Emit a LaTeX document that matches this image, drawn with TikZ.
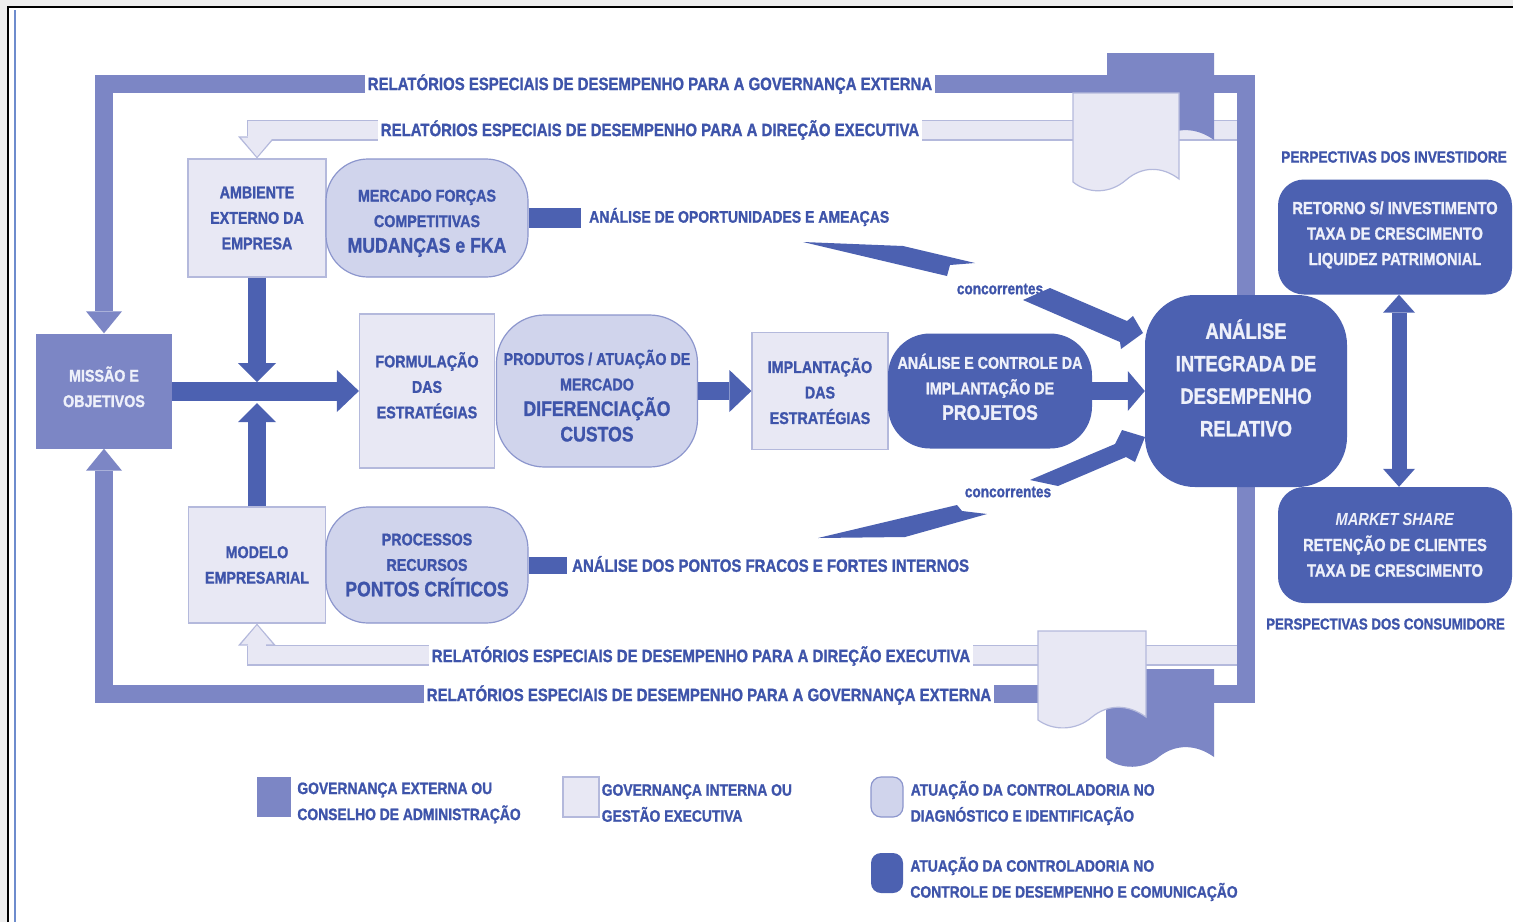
\documentclass[tikz,border=0pt]{standalone}
\usepackage{fontspec}
\setmainfont{Liberation Sans}[FakeStretch=0.84, BoldFeatures={FakeBold=1.2}]
\usetikzlibrary{arrows.meta}

\definecolor{govdark}{RGB}{124,134,197}
\definecolor{govlight}{RGB}{232,232,244}
\definecolor{govedge}{RGB}{180,185,220}
\definecolor{diagfill}{RGB}{208,212,236}
\definecolor{diagedge}{RGB}{140,150,205}
\definecolor{ctrlblue}{RGB}{76,97,177}
\definecolor{inkblue}{RGB}{62,84,170}
\definecolor{paleink}{RGB}{238,240,250}
\definecolor{framegray}{RGB}{238,238,238}
\definecolor{frameblue}{RGB}{110,140,205}

\newcommand{\grande}[1]{{\fontsize{21}{25}\selectfont #1}}

\tikzset{
  box/.style={rectangle, inner sep=0pt, align=center,
    font=\bfseries\fontsize{17}{25.5}\selectfont},
  gestao/.style={box, draw=govedge, fill=govlight, text=inkblue, line width=1.2pt},
  diag/.style={box, draw=diagedge, fill=diagfill, text=inkblue, line width=1.2pt,
    rounded corners=42pt},
  ctrl/.style={box, fill=ctrlblue, text=paleink, rounded corners=42pt},
  gov/.style={box, fill=govdark, text=paleink},
  flow/.style={ctrlblue, line width=19pt,
    -{Triangle[length=22pt, width=42pt, line width=0pt]}},
  govline/.style={govdark, line width=18pt, line join=miter,
    -{Triangle[length=22pt, width=36pt, line width=0pt]}},
  dirouter/.style={govedge, line width=21pt, line join=miter,
    -{Triangle[length=22pt, width=38pt, line width=0pt]}},
  dirinner/.style={govlight, line width=18.4pt, line join=miter, shorten >=1.8pt,
    -{Triangle[length=19pt, width=32pt, line width=0pt]}},
  barlabel/.style={fill=white, text=inkblue, inner xsep=3pt, inner ysep=0pt,
    minimum height=23pt, font=\bfseries\fontsize{17.8}{20}\selectfont},
  note/.style={text=inkblue, inner sep=0pt, font=\bfseries\fontsize{17}{20}\selectfont},
  legtext/.style={note, anchor=west, align=left,
    font=\bfseries\fontsize{16.5}{26}\selectfont},
  bolt/.style={fill=ctrlblue}
}

\begin{document}
\begin{tikzpicture}[x=1pt, y=-1pt]
  \useasboundingbox (0,0) rectangle (1513,922);
  % moldura
  \fill[white] (0,0) rectangle (1513,922);
  \fill[framegray] (0,0) rectangle (1513,6);
  \fill[framegray] (0,0) rectangle (7,922);
  \draw[line width=2.2pt] (8,922) -- (8,7) -- (1513,7);
  \draw[frameblue, line width=1.8pt] (15,10) -- (15,922);

  % blocos de partida
  \node[gov, minimum width=136pt, minimum height=115pt] (missao) at (104,391) {MISSÃO E\\OBJETIVOS\\[-17pt]\mbox{}};
  \node[gestao, minimum width=138pt, minimum height=118pt] (ambiente) at (257,218) {AMBIENTE\\EXTERNO DA\\EMPRESA};
  \node[gestao, minimum width=137pt, minimum height=116pt] (modelo) at (257,565) {MODELO\\EMPRESARIAL};

  % relatorios para a direcao executiva
  \coordinate (dirNE) at (1240,130);
  \coordinate (dirSE) at (1240,655);
  \draw[dirouter] (dirNE) -| (ambiente.north);
  \draw[dirinner] (dirNE) -| (ambiente.north);
  \draw[dirouter] (dirSE) -| (modelo.south);
  \draw[dirinner] (dirSE) -| (modelo.south);

  % relatorios para a governanca externa
  \coordinate (govNE) at (1246,84);
  \coordinate (govSE) at (1246,694);
  \draw[govline] (govSE) -- (govNE) -| (missao.north);
  \draw[govline] (govNE) -- (govSE) -| (missao.south);

  % folhas de relatorio
  \fill[govdark] (1107,53) -- (1214,53) -- (1214,140)
    .. controls (1196,127) and (1176,127) .. (1160,139)
    .. controls (1145,151) and (1122,151) .. (1107,139) -- cycle;
  \filldraw[fill=govlight, draw=govedge, line width=1.2pt] (1073,93) -- (1179,93) -- (1179,179)
    .. controls (1162,166) and (1142,166) .. (1126,180)
    .. controls (1110,194) and (1088,194) .. (1073,182) -- cycle;
  \fill[govdark] (1106,669) -- (1214,669) -- (1214,757)
    .. controls (1196,744) and (1176,744) .. (1160,756)
    .. controls (1144,770) and (1121,770) .. (1106,758) -- cycle;
  \filldraw[fill=govlight, draw=govedge, line width=1.2pt] (1038,631) -- (1146,631) -- (1146,717)
    .. controls (1128,704) and (1108,704) .. (1092,717)
    .. controls (1076,731) and (1053,731) .. (1038,720) -- cycle;

  % textos sobre as barras
  \node[barlabel] (govtop) at (650,84) {RELATÓRIOS ESPECIAIS DE DESEMPENHO PARA A GOVERNANÇA EXTERNA};
  \node[barlabel] (dirtop) at (650,130) {RELATÓRIOS ESPECIAIS DE DESEMPENHO PARA A DIREÇÃO EXECUTIVA};
  \node[barlabel] (dirbot) at (701,656) {RELATÓRIOS ESPECIAIS DE DESEMPENHO PARA A DIREÇÃO EXECUTIVA};
  \node[barlabel] (govbot) at (709,695) {RELATÓRIOS ESPECIAIS DE DESEMPENHO PARA A GOVERNANÇA EXTERNA};

  % fluxo principal
  \node[gestao, minimum width=135pt, minimum height=154pt] (formulacao) at (427,391) {FORMULAÇÃO\\DAS\\ESTRATÉGIAS\\[-14pt]\mbox{}};
  \node[diag, minimum width=202pt, minimum height=118pt] (mercado) at (427,218) {\mbox{}\\[-3pt]MERCADO FORÇAS\\COMPETITIVAS\\\grande{MUDANÇAS e FKA}};
  \node[diag, minimum width=202pt, minimum height=116pt] (processos) at (427,565) {PROCESSOS\\RECURSOS\\\grande{PONTOS CRÍTICOS}};
  \node[diag, minimum width=201pt, minimum height=152pt, rounded corners=48pt] (produtos) at (597,391) {\mbox{}\\[-1pt]PRODUTOS / ATUAÇÃO DE\\MERCADO\\\grande{DIFERENCIAÇÃO}\\\grande{CUSTOS}};
  \node[gestao, minimum width=136pt, minimum height=117pt] (implantacao) at (820,391) {IMPLANTAÇÃO\\DAS\\ESTRATÉGIAS};
  \node[ctrl, minimum width=204pt, minimum height=115pt] (controle) at (990,391) {ANÁLISE E CONTROLE DA\\IMPLANTAÇÃO DE\\\grande{PROJETOS}\\[-17pt]\mbox{}};
  \node[ctrl, minimum width=202pt, minimum height=192pt, rounded corners=50pt,
        font=\bfseries\fontsize{22}{32.5}\selectfont] (integrada) at (1246,391) {ANÁLISE\\INTEGRADA DE\\DESEMPENHO\\RELATIVO\\[-6pt]\mbox{}};
  \node[ctrl, minimum width=234pt, minimum height=115pt, rounded corners=26pt,
        font=\bfseries\fontsize{17.5}{25.5}\selectfont] (retorno) at (1395,237) {RETORNO S/ INVESTIMENTO\\TAXA DE CRESCIMENTO\\LIQUIDEZ PATRIMONIAL\\[-18pt]\mbox{}};
  \node[ctrl, minimum width=234pt, minimum height=116pt, rounded corners=26pt,
        font=\bfseries\fontsize{17.5}{25.5}\selectfont] (market) at (1395,545) {\textit{MARKET SHARE}\\RETENÇÃO DE CLIENTES\\TAXA DE CRESCIMENTO};

  \draw[flow] (missao) -- (formulacao);
  \draw[flow, line width=18pt, -{Triangle[length=19pt, width=38pt, line width=0pt]}, shorten >=9pt] (ambiente) -- (ambiente |- missao);
  \draw[flow, line width=18pt, -{Triangle[length=19pt, width=38pt, line width=0pt]}, shorten >=12pt] (modelo) -- (modelo |- missao);
  \draw[flow, line width=18pt] (produtos) -- (implantacao);
  \draw[flow, line width=18pt, -{Triangle[length=17pt, width=40pt, line width=0pt]}] (controle) -- (integrada);
  \draw[flow, line width=15pt, {Triangle[length=18pt, width=32pt, line width=0pt]}-{Triangle[length=18pt, width=32pt, line width=0pt]}]
    ([xshift=4pt]retorno.south) -- ([xshift=4pt]market.north);

  % analises externa e interna
  \node[note, anchor=west, font=\bfseries\fontsize{16.7}{20}\selectfont] (oport) at (589,217) {ANÁLISE DE OPORTUNIDADES E AMEAÇAS};
  \draw[ctrlblue, line width=20pt, shorten >=8pt] (mercado.east) -- (mercado.east -| oport.west);
  \node[note, anchor=west, font=\bfseries\fontsize{17.8}{20}\selectfont] (fracos) at (572,564) {ANÁLISE DOS PONTOS FRACOS E FORTES INTERNOS};
  \draw[ctrlblue, line width=17pt, shorten >=5pt] (processos.east) -- (processos.east -| fracos.west);

  \node[note, font=\bfseries\fontsize{16.2}{18}\selectfont] (concA) at (1000,289) {concorrentes};
  \node[note, font=\bfseries\fontsize{16.2}{18}\selectfont] (concB) at (1008,492) {concorrentes};
  \fill[bolt] (803,242) -- (903,246) -- (975,263) -- (950,265) -- (947,276) -- cycle;
  \fill[bolt] (1023,300) -- (1050,288) -- (1127,321) -- (1133,316) -- (1143,333) -- (1121,349) -- (1120,342) -- cycle;
  \fill[bolt] (818,538) -- (905,537) -- (987,514) -- (962,511) -- (957,505) -- cycle;
  \fill[bolt] (1030,480) -- (1115,444) -- (1122,430) -- (1145,437) -- (1135,462) -- (1126,457) -- (1058,486) -- cycle;

  \node[note, anchor=west, font=\bfseries\fontsize{16.3}{18}\selectfont] (investidores) at (1281,157) {PERPECTIVAS DOS INVESTIDORE};
  \node[note, anchor=west, font=\bfseries\fontsize{15.8}{18}\selectfont] (consumidores) at (1266,624) {PERSPECTIVAS DOS CONSUMIDORE};

  % legenda
  \node[gov, minimum width=34pt, minimum height=40pt] (lgov) at (274,797) {};
  \path (lgov.east) ++(6,6) node[legtext] (lgovtxt) {GOVERNANÇA EXTERNA OU\\CONSELHO DE ADMINISTRAÇÃO};
  \node[gestao, minimum width=36pt, minimum height=40pt] (lgest) at (581,797) {};
  \path (lgest.east) ++(2,6) node[legtext] (lgesttxt) {GOVERNANÇA INTERNA OU\\GESTÃO EXECUTIVA};
  \node[diag, minimum width=32pt, minimum height=40pt, rounded corners=10pt] (ldiag) at (887,797) {};
  \path (ldiag.east) ++(7,6) node[legtext] (ldiagtxt) {ATUAÇÃO DA CONTROLADORIA NO\\DIAGNÓSTICO E IDENTIFICAÇÃO};
  \node[ctrl, minimum width=32pt, minimum height=40pt, rounded corners=10pt] (lctrl) at (887,873) {};
  \path (lctrl.east) ++(7,6) node[legtext] (lctrltxt) {ATUAÇÃO DA CONTROLADORIA NO\\CONTROLE DE DESEMPENHO E COMUNICAÇÃO};
\end{tikzpicture}
\end{document}
